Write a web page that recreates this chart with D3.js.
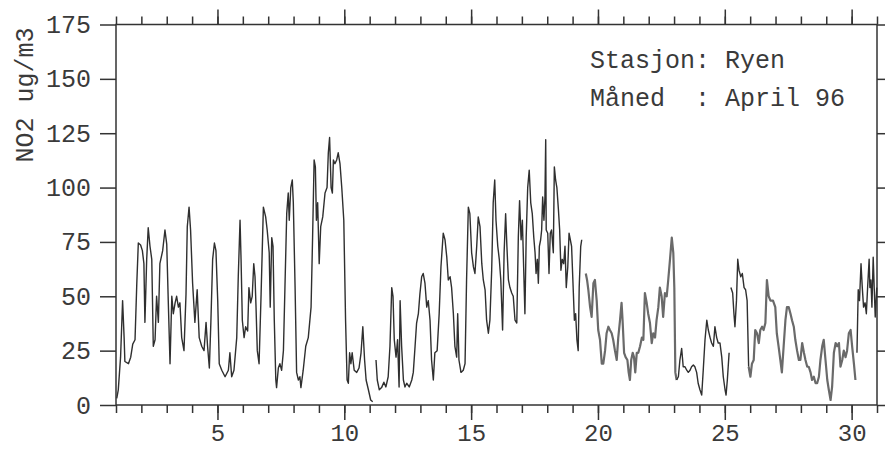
<!DOCTYPE html>
<html><head><meta charset="utf-8">
<script src="https://cdn.jsdelivr.net/npm/d3@7"></script>
<style>
body{margin:0;background:#fff}
svg{display:block}
text{font-family:"Liberation Mono","DejaVu Sans Mono",monospace;fill:#3a3a3a}
</style>
</head><body>
<svg id="c" width="885" height="449"></svg>
<script>
// Hourly-ish NO2 readings (day of month, ug/m3); null marks a gap in the record
const days = [
1.03,1.09,1.18,1.26,1.32,1.35,1.49,1.58,1.66,1.75,
1.82,1.88,1.97,2.04,2.10,2.14,2.21,2.27,2.34,2.41,
2.47,2.54,2.60,2.67,2.73,2.84,2.93,3.00,3.06,3.13,
3.20,3.26,3.33,3.39,3.46,3.52,3.59,3.68,3.76,3.81,
3.88,3.94,4.02,4.11,4.20,4.28,4.38,4.47,4.55,4.61,
4.68,4.74,4.81,4.88,4.94,5.01,5.07,5.17,5.30,5.43,
5.49,5.56,5.65,5.76,
5.82,5.89,5.93,5.98,6.05,6.11,6.19,6.24,6.31,6.37,
6.43,6.48,6.52,6.57,6.64,6.72,6.81,6.90,6.96,7.04,
7.08,7.14,7.19,7.24,7.30,7.33,7.40,7.46,7.53,7.60,
7.66,7.73,7.79,7.83,7.89,7.95,7.99,8.06,8.12,8.19,
8.25,8.29,8.38,8.48,8.58,8.69,8.75,8.81,8.86,8.90,
8.95,9.01,9.07,9.15,9.24,9.32,9.37,9.42,9.48,9.53,
9.57,9.63,9.70,9.76,9.83,9.90,9.98,10.05,10.11,10.16,
10.21,10.26,10.31,10.39,10.49,10.58,10.66,10.73,10.80,10.86,
10.95,11.04,11.12,
11.18,
11.25,11.30,11.38,11.47,11.56,11.64,11.73,11.80,11.87,11.92,
11.97,12.04,12.10,12.16,12.20,12.26,12.33,12.39,12.46,12.56,
12.66,12.72,12.79,12.85,12.92,12.98,13.05,13.11,13.18,13.25,
13.31,13.38,13.44,13.51,13.57,13.66,13.74,13.81,13.90,13.97,
14.04,14.10,14.17,14.23,14.30,14.36,14.43,14.47,14.52,14.60,
14.69,14.76,14.82,14.89,14.95,15.02,15.09,15.15,15.22,15.28,
15.35,15.42,15.48,15.55,15.61,15.68,15.74,15.81,15.87,15.93,
15.98,16.05,16.11,16.17,16.24,16.30,16.36,16.41,16.47,16.53,
16.60,16.66,16.73,16.80,16.86,16.91,16.97,17.02,17.07,17.12,
17.17,17.23,17.29,17.35,17.41,17.47,17.52,17.56,17.61,17.65,
17.69,17.74,17.78,17.82,17.87,17.91,17.94,17.96,18.02,18.07,
18.12,18.17,18.24,18.28,18.33,18.38,18.44,18.49,18.54,18.59,
18.65,18.70,18.75,18.81,18.86,18.91,18.96,19.03,19.07,19.12,
19.17,19.22,19.26,19.32,19.36,
19.44,
19.52,19.57,19.62,19.69,19.75,19.82,19.88,19.95,20.01,20.08,
20.15,20.21,20.28,20.34,20.41,20.47,20.54,20.60,20.67,20.74,
20.80,20.87,20.93,20.97,21.03,21.09,21.16,21.21,21.26,21.31,
21.37,21.42,21.47,21.53,21.59,21.66,21.73,21.79,21.85,21.92,
21.98,22.05,22.12,22.18,22.25,22.31,22.38,22.44,22.51,22.57,
22.64,22.71,22.77,22.84,22.91,22.97,23.01,23.05,23.10,23.17,
23.23,23.30,23.36,23.43,23.50,23.56,23.63,23.69,23.76,23.82,
23.89,23.95,24.02,24.09,24.15,24.22,24.29,24.35,24.42,24.48,
24.55,24.61,24.68,24.74,24.81,24.88,24.94,25.01,25.05,25.10,
25.17,
25.20,
25.24,25.31,25.36,25.40,25.46,25.51,25.56,25.63,25.69,25.76,
25.82,25.88,25.94,26.01,26.07,26.14,26.20,26.27,26.34,26.40,
26.47,26.53,26.60,26.66,26.73,26.80,26.90,26.99,27.05,27.12,
27.19,27.25,27.32,27.39,27.45,27.52,27.59,27.65,27.72,27.78,
27.85,27.92,27.98,28.05,28.12,28.18,28.25,28.31,28.38,28.44,
28.51,28.58,28.64,28.71,28.77,28.84,28.90,28.97,29.04,29.10,
29.17,29.23,29.30,29.37,29.43,29.50,29.56,29.63,29.69,29.76,
29.82,29.89,29.96,30.02,30.09,30.15,
30.18,
30.21,30.26,30.31,30.37,30.42,30.47,30.53,30.58,30.63,30.69,
30.72,30.76,30.80,30.85,30.89,30.93,30.99
];
const no2 = [
3,7,22,48,31,20,19,22,28,30,
56,74.5,73.6,71,65,38,67,81.5,73,67,
27,30,50,38,65,71,80.5,74,48,19,
50,42,47,50,45,47,31,25,51,82,
91,80.5,56,38,53,31,27,25,38,27,
17,38,67,74.5,71,48,19,16,13,16,
24,13,16,31,
59,85,67,39,31,36,34,54,47,50,
65,59,45,25,19,51,91,86.5,80.5,70,
45,77,73,39,11.5,8,17,19,16,25,
54,88,97.5,85,100,103.5,93,54,15,11.5,
13,8,16,27,31,45,77,112.7,109.5,85,
93,65,82,86.5,97.5,100,116,123,100,97.5,
112.7,111,112.7,116,111,100,85,39,11.5,10,
24,19,24,16,15,17,24,36,20.7,11.5,
7,2.3,1.5,
null,
20.7,11.5,7,8,10.5,8.3,13,27,54,50,
30,22,30,8.3,48,27,11.5,8.3,10,8.3,
11.5,15,27,37.7,42,51,59,60.5,56,45,
48,39,20.7,11.5,24,25,42,63.5,79,76,
68,57.5,59,54,42,27,22,42,20.7,15,
16,19,57.5,91,88,70,63.5,60.5,73,86.5,
82,65,57.5,53,39,33,39,62,93,103.5,
85,73,67,57.5,34.5,70,88,73,57.5,54,
51.5,50,39,37.7,77,94,76,85,63.5,42,
77,100,108,93,88,77,70,60.5,67,56,
73,76,80.5,95.7,85,95.7,122,80.5,79,60.5,
79,80.5,70,109.5,103.5,100,90,80.5,62,67,
65,73,54,63.5,79,76,73,51.5,39,42,
30,25,54,73,76,
null,
60.5,57.5,53,45,40.5,56,57.5,48,34.5,30,
19,19,25,33,36,34.5,33,30,25,20.7,
31,39,47,39,24,22,20.7,15,11.5,20.7,
24,22,15,24,24,27,31,30,51.5,47,
42,37.7,28.5,33,31,39,45,54,50,40.5,
51.5,50,57.5,67,77,70,54,15,11.5,13,
20.7,26,17.6,17.6,16,15,16,17.6,18.4,17.6,
15,10,7,4.6,16,30,39,34.5,31,28.5,
27,36,31,28.5,28.5,22,13,7,4.6,11.5,
24,
null,
54,51.5,42,36,48,67,62,59,60.5,54,
53,48,17.6,13,19,20.7,34.5,33,28.5,34.5,
36,34.5,37.7,57.5,50,48,48,45,33,27,
20.7,15,27,39,45,45,42,39,36,30,
25,20.7,20.7,28.5,24,20.7,17.6,17.6,15,11.5,
13,10,10,13,20.7,27,30,20.7,11.5,7,
2.3,8.3,24,28.5,27,28.5,17.6,20.7,25,22,
25,33,34.5,27,19,11.5,
null,
24,53,48,65,54,45,47,42,54,67,
54,57.5,45,68,54,40.5,54
];
const dayTicks = d3.range(1, 32);
const dayLabels = [5, 10, 15, 20, 25, 30];
const yTicks = [0, 25, 50, 75, 100, 125, 150, 175];
const yTitle = "NO2 ug/m3";
const infoLines = ["Stasjon: Ryen", "Måned  : April 96"];

// ---- layout / style ----
const L = 116, R = 877, T = 24.5, B = 405;
const FS = 25;
const FSX = 24;
const axisColor = "#333";
const x = d3.scaleLinear().domain([1, 31]).range([L, R]);
const y = d3.scaleLinear().domain([0, 175]).range([B, T]);
const svg = d3.select("#c");

function styleAxis(g, fs){
  g.select(".domain").remove();
  g.selectAll(".tick line").attr("stroke", axisColor).attr("stroke-width", 1.5);
  g.selectAll(".tick text").attr("font-size", fs || FS).attr("fill", "#3a3a3a")
    .attr("font-family", '"Liberation Mono","DejaVu Sans Mono",monospace');
}

// bottom axis: minor + labelled major ticks
svg.append("g").attr("transform", `translate(0,${B})`)
  .call(d3.axisBottom(x).tickValues(dayTicks).tickSize(8).tickFormat("")).call(styleAxis);
const bx = svg.append("g").attr("transform", `translate(0,${B})`)
  .call(d3.axisBottom(x).tickValues(dayLabels).tickSize(15).tickFormat(d3.format("d")));
styleAxis(bx, FSX);
bx.selectAll(".tick text").attr("y", 36).attr("dy", null);
// top axis
svg.append("g").attr("transform", `translate(0,${T})`)
  .call(d3.axisTop(x).tickValues(dayTicks).tickSize(8).tickFormat("")).call(styleAxis);
svg.append("g").attr("transform", `translate(0,${T})`)
  .call(d3.axisTop(x).tickValues(dayLabels).tickSize(15).tickFormat("")).call(styleAxis);
// left axis
svg.append("g").attr("transform", `translate(${L},0)`)
  .call(d3.axisLeft(y).tickValues(yTicks).tickSize(16).tickPadding(9).tickFormat(d3.format("d"))).call(styleAxis);
// right axis
svg.append("g").attr("transform", `translate(${R},0)`)
  .call(d3.axisRight(y).tickValues(yTicks).tickSize(16).tickFormat("")).call(styleAxis);

// frame
svg.append("rect").attr("x", L).attr("y", T).attr("width", R - L).attr("height", B - T)
  .attr("fill", "none").attr("stroke", axisColor).attr("stroke-width", 1.5);

// y title
svg.append("text").attr("transform", `translate(33,95) rotate(-90)`)
  .attr("text-anchor", "middle").attr("font-size", FS).text(yTitle);

// info text
svg.append("g").selectAll("text").data(infoLines).join("text")
  .attr("x", 590).attr("y", (d, i) => 68 + i * 38)
  .attr("font-size", FS).style("white-space", "pre").attr("xml:space", "preserve")
  .text(d => d);

// data line, split at gaps and by print tone
const pts = days.map((d, i) => ({day: d, v: no2[i]}));
const runs = []; let cur = [];
pts.forEach(p => { if (p.v == null) { if (cur.length) runs.push(cur); cur = []; } else cur.push(p); });
if (cur.length) runs.push(cur);
const faintSpans = [[19.45, 23.05], [25.93, 30.17]];
const isFaint = d => faintSpans.some(([a, b]) => d >= a && d <= b);
const pieces = [];
runs.forEach(run => {
  let seg = [run[0]], f = isFaint(run[0].day);
  for (let i = 1; i < run.length; i++) {
    const p = run[i], pf = isFaint(p.day);
    seg.push(p);
    if (pf !== f) { pieces.push({faint: f, pts: seg}); seg = [p]; f = pf; }
  }
  pieces.push({faint: f, pts: seg});
});
const line = d3.line().x(d => x(d.day)).y(d => y(d.v));
svg.append("g").selectAll("path").data(pieces).join("path")
  .attr("d", d => line(d.pts))
  .attr("fill", "none")
  .attr("stroke", d => d.faint ? "#6a6a6a" : "#2f2f2f")
  .attr("stroke-width", d => d.faint ? 2.2 : 1.4)
  .attr("stroke-linejoin", "round");
</script>
</body></html>
